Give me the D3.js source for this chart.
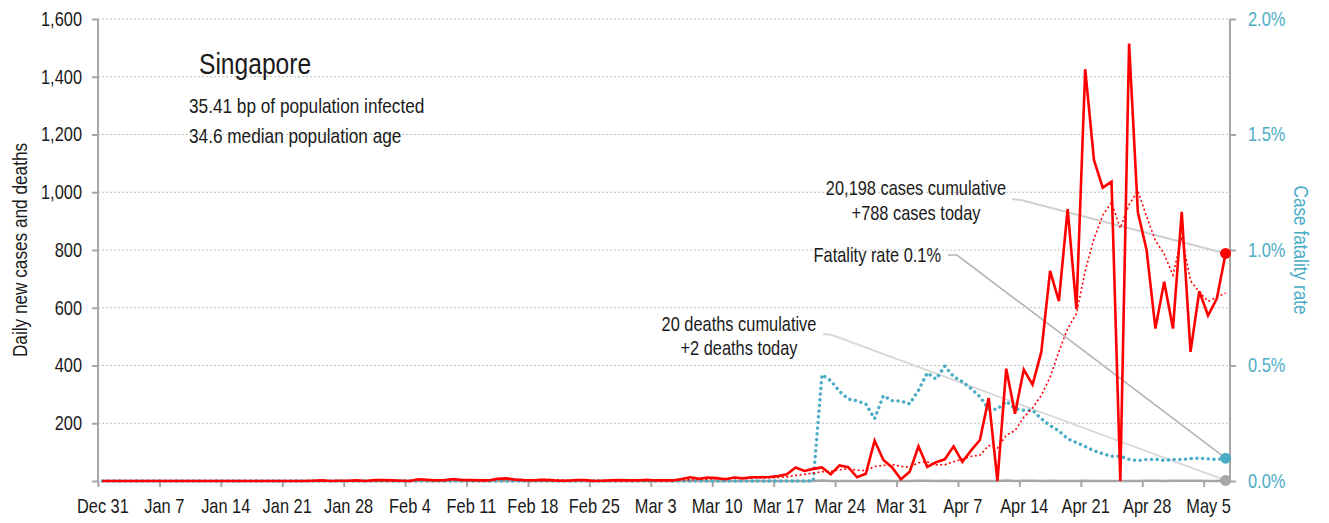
<!DOCTYPE html>
<html lang="en">
<head>
<meta charset="utf-8">
<script src="https://cdnjs.cloudflare.com/ajax/libs/d3/7.8.5/d3.min.js"></script>
<style>
	body{ margin:0; background:#fff; }
	svg{ display:block; font-family:"Liberation Sans",Arial,sans-serif; }
	.grid line{ stroke:#bfbfbf; stroke-width:1.2; stroke-dasharray:2,2; }
	.axis path, .axis line{ stroke:#a6a6a6; stroke-width:2; }
	.axis text{ font-size:20px; fill:#1a1a1a; }
	.axis.right text{ fill:#4bacc6; }
</style>
</head>
<body>
<svg id="chart" width="1329" height="523"></svg>
<script>
	// day 0 = Dec 31, one value per day, drawn at noon
	const startDate = new Date(2019, 11, 31);

	const cases = [
		0,0,0,0,0,0,0,0,0,0,0,0,0,0,0,0,0,0,0,0,0,0,0,0,
		1,2,0,1,1,2,0,3,3,2,
		1,0,6,4,2,3,7,3,3,2,
		2,8,9,5,3,2,4,3,1,1,
		3,3,0,1,2,3,2,2,4,2,
		2,2,7,13,8,12,10,6,12,9,
		13,13,14,17,23,47,35,42,47,23,
		54,48,13,25,140,73,47,6,32,120,
		49,65,75,120,66,106,142,287,0,389,
		233,386,334,447,728,623,942,596,1426,1111,
		1016,1037,0,1515,931,799,528,690,528,932,
		447,657,573,632,788
	];

	const casesAvg = [
		0,0,0,0,0,0,0,0,0,0,0,0,0,0,0,0,0,0,0,0,0,0,0,0,
		0.1,0.4,0.4,0.6,0.7,1.0,1.0,1.3,1.4,1.7,
		1.7,1.6,2.1,2.7,2.6,2.6,3.3,3.6,4.0,3.4,
		3.1,4.0,4.9,4.6,4.6,4.4,4.7,4.9,3.9,2.7,
		2.4,2.4,2.1,1.7,1.6,1.9,2.0,1.9,2.0,2.3,
		2.4,2.4,3.0,4.6,5.4,6.6,7.7,8.3,9.7,10.0,
		10.0,10.7,11.0,12.0,14.4,19.4,23.1,27.3,32.1,33.4,
		38.7,42.3,37.4,36.0,50.0,53.7,57.1,50.3,48.0,63.3,
		66.7,56.0,56.3,66.7,75.3,85.9,89.0,123.0,113.7,158.6,
		174.7,220.4,253.0,296.6,359.6,448.6,527.6,579.4,728.0,839.0,
		920.3,964.4,875.4,957.3,1005.1,915.6,832.3,785.7,713.0,846.1,
		693.6,654.4,622.1,637.0,651.0
	];

	const deaths = [
		0,0,0,0,0,0,0,0,0,0,0,0,0,0,0,0,0,0,0,0,0,0,0,0,0,0,0,0,0,0,
		0,0,0,0,0,0,0,0,0,0,0,0,0,0,0,0,0,0,0,0,0,0,0,0,0,0,0,0,0,0,
		0,0,0,0,0,0,0,0,0,0,0,0,0,0,0,0,0,0,0,0,
		0,0,2,0,0,0,0,0,0,1,
		0,0,0,1,1,0,1,0,0,0,
		0,0,0,2,0,1,1,0,1,0,
		0,0,1,0,0,0,0,0,0,1,
		1,0,1,1,1,1,0,0,2
	];

	// case fatality rate, %
	const fatality = [
		0,0,0,0,0,0,0,0,0,0,0,0,0,0,0,0,0,0,0,0,0,0,0,0,0,0,0,0,0,0,
		0,0,0,0,0,0,0,0,0,0,0,0,0,0,0,0,0,0,0,0,0,0,0,0,0,0,0,0,0,0,
		0,0,0,0,0,0,0,0,0,0,0,0,0,0,0,0,0,0,0,0,0,0,
		0.46,0.434,0.388,0.355,0.347,0.333,0.27,0.369,0.348,0.346,
		0.334,0.393,0.468,0.441,0.497,0.452,0.43,0.4,0.365,0.311,
		0.311,0.345,0.314,0.306,0.306,0.269,0.24,0.217,0.183,0.166,
		0.149,0.131,0.118,0.107,0.107,0.094,0.088,0.093,0.094,0.089,
		0.093,0.093,0.097,0.099,0.096,0.093,0.099
	];

	const xTickLabels = ["Dec 31 2019","Jan 7 2020","Jan 14 2020","Jan 21 2020","Jan 28 2020","Feb 4 2020",
		"Feb 11 2020","Feb 18 2020","Feb 25 2020","Mar 3 2020","Mar 10 2020","Mar 17 2020","Mar 24 2020",
		"Mar 31 2020","Apr 7 2020","Apr 14 2020","Apr 21 2020","Apr 28 2020","May 5 2020"];
	const yTicks = [0,200,400,600,800,1000,1200,1400,1600];
	const rateTicks = [0,0.5,1.0,1.5,2.0];

	const title = "Singapore";
	const subtitles = ["35.41 bp of population infected", "34.6 median population age"];
	const caseNote = ["20,198 cases cumulative", "+788 cases today"];
	const rateNote = "Fatality rate 0.1%";
	const deathNote = ["20 deaths cumulative", "+2 deaths today"];

	const plotLeft = 98, plotRight = 1230, plotTop = 19, plotBottom = 481;
	const red = "#ff0000", blue = "#4bacc6", grey = "#a6a6a6";
	const squeeze = 0.82; // no narrow face installed, so squeeze Liberation Sans

	const svg = d3.select("#chart");
	const parseDay = d3.timeParse("%b %d %Y");
	const dayAt = i => d3.timeHour.offset(d3.timeDay.offset(startDate, i), 12);

	// move x into a translate and compress the glyphs horizontally
	function narrow(sel) {
		sel.each(function() {
			const t = d3.select(this);
			const tx = +t.attr("x") || 0, ty = +t.attr("y") || 0;
			const prev = t.attr("transform") || "";
			t.attr("x", 0).attr("y", 0)
				.attr("transform", `${prev} translate(${tx},${ty}) scale(${squeeze},1)`);
		});
	}

	const x = d3.scaleTime()
			.domain([startDate, d3.timeDay.offset(startDate, cases.length)])
			.range([plotLeft, plotRight]);
	const y = d3.scaleLinear().domain([0, 1600]).range([plotBottom, plotTop]);
	const yRate = d3.scaleLinear().domain([0, 2]).range([plotBottom, plotTop]);

	// grid
	svg.append("g").attr("class", "grid")
		.selectAll("line").data(yTicks.filter(d => d > 0)).enter()
		.append("line")
		.attr("x1", plotLeft).attr("x2", plotRight)
		.attr("y1", d => y(d)).attr("y2", d => y(d));

	// axes
	svg.append("g").attr("class", "axis left")
		.attr("transform", `translate(${plotLeft},0)`)
		.call(d3.axisLeft(y).tickValues(yTicks).tickSize(6).tickPadding(10)
			.tickFormat(d => d === 0 ? "" : d3.format(",")(d)))
		.selectAll("text").call(narrow);

	svg.append("g").attr("class", "axis right")
		.attr("transform", `translate(${plotRight},0)`)
		.call(d3.axisRight(yRate).tickValues(rateTicks).tickSize(6).tickPadding(12)
			.tickFormat(d => d.toFixed(1) + "%"))
		.selectAll("text").call(narrow);

	const halfDay = x(dayAt(0)) - x(startDate);
	svg.append("g").attr("class", "axis bottom")
		.attr("transform", `translate(0,${plotBottom})`)
		.call(d3.axisBottom(x).tickValues(xTickLabels.map(parseDay)).tickSize(6).tickPadding(12)
			.tickFormat(d3.timeFormat("%b %-d")))
		.selectAll("text").attr("x", halfDay).attr("font-size", "19.5px").call(narrow);

	svg.selectAll(".axis .domain").remove();
	svg.append("line").attr("x1", plotLeft).attr("x2", plotLeft).attr("y1", plotTop).attr("y2", plotBottom)
		.attr("stroke", grey).attr("stroke-width", 2);
	svg.append("line").attr("x1", plotRight).attr("x2", plotRight).attr("y1", plotTop).attr("y2", plotBottom)
		.attr("stroke", grey).attr("stroke-width", 2);

	// axis titles
	svg.append("text").text("Daily new cases and deaths")
		.attr("transform", "translate(27,250) rotate(-90)")
		.attr("text-anchor", "middle").attr("font-size", "21px").attr("fill", "#1a1a1a")
		.call(narrow);
	svg.append("text").text("Case fatality rate")
		.attr("transform", "translate(1294,250) rotate(90)")
		.attr("text-anchor", "middle").attr("font-size", "21px").attr("fill", blue)
		.call(narrow);

	// leader lines from the notes to the last points
	const last = cases.length - 1;
	const lx = x(dayAt(last));
	const leaders = [
		{pts: [[1012, 199], [1021, 200], [lx, y(cases[last])]], color: "#d0d0d0", w: 2},
		{pts: [[948, 255], [957, 255], [lx, yRate(fatality[last])]], color: "#b4b4b4", w: 1.6},
		{pts: [[823, 334], [832, 335], [lx, y(deaths[last])]], color: "#d9d9d9", w: 2}
	];
	svg.append("g").selectAll("path").data(leaders).enter()
		.append("path")
		.attr("d", d => d3.line()(d.pts))
		.attr("fill", "none")
		.attr("stroke", d => d.color)
		.attr("stroke-width", d => d.w);

	// series
	const lineLeft = d3.line().x((d, i) => x(dayAt(i))).y(d => y(d));
	const lineRate = d3.line().x((d, i) => x(dayAt(i))).y(d => yRate(d));

	svg.append("path").datum(deaths)
		.attr("d", lineLeft).attr("fill", "none")
		.attr("stroke", grey).attr("stroke-width", 2.5);

	svg.append("path").datum(fatality)
		.attr("d", lineRate).attr("fill", "none")
		.attr("stroke", blue).attr("stroke-width", 3.4)
		.attr("stroke-linecap", "round").attr("stroke-dasharray", "0.1,5.6");

	svg.append("path").datum(casesAvg)
		.attr("d", lineLeft).attr("fill", "none")
		.attr("stroke", red).attr("stroke-width", 1.6)
		.attr("stroke-dasharray", "2,2.5");

	svg.append("path").datum(cases)
		.attr("d", lineLeft).attr("fill", "none")
		.attr("stroke", red).attr("stroke-width", 2.6);

	// end dots
	const dots = [
		{cy: y(deaths[last]), color: grey},
		{cy: yRate(fatality[last]), color: blue},
		{cy: y(cases[last]), color: red}
	];
	svg.append("g").selectAll("circle").data(dots).enter()
		.append("circle")
		.attr("cx", lx).attr("cy", d => d.cy).attr("r", 5.5)
		.attr("fill", d => d.color);

	// titles and notes
	svg.append("text").text(title)
		.attr("x", 199).attr("y", 74).attr("font-size", "30px").attr("fill", "#1a1a1a")
		.call(narrow);
	svg.append("g").selectAll("text").data(subtitles).enter()
		.append("text").text(d => d)
		.attr("x", 189).attr("y", (d, i) => 112.5 + i * 30)
		.attr("font-size", "21px").attr("fill", "#1a1a1a")
		.call(narrow);

	const note = (lines, cx, y0, anchor) => svg.append("g").selectAll("text").data(lines).enter()
		.append("text").text(d => d)
		.attr("x", cx).attr("y", (d, i) => y0 + i * 24.5)
		.attr("text-anchor", anchor)
		.attr("font-size", "20px").attr("fill", "#1a1a1a")
		.call(narrow);

	note(caseNote, 916, 195, "middle");
	note([rateNote], 941, 262, "end");
	note(deathNote, 739, 330.5, "middle");
</script>
</body>
</html>
